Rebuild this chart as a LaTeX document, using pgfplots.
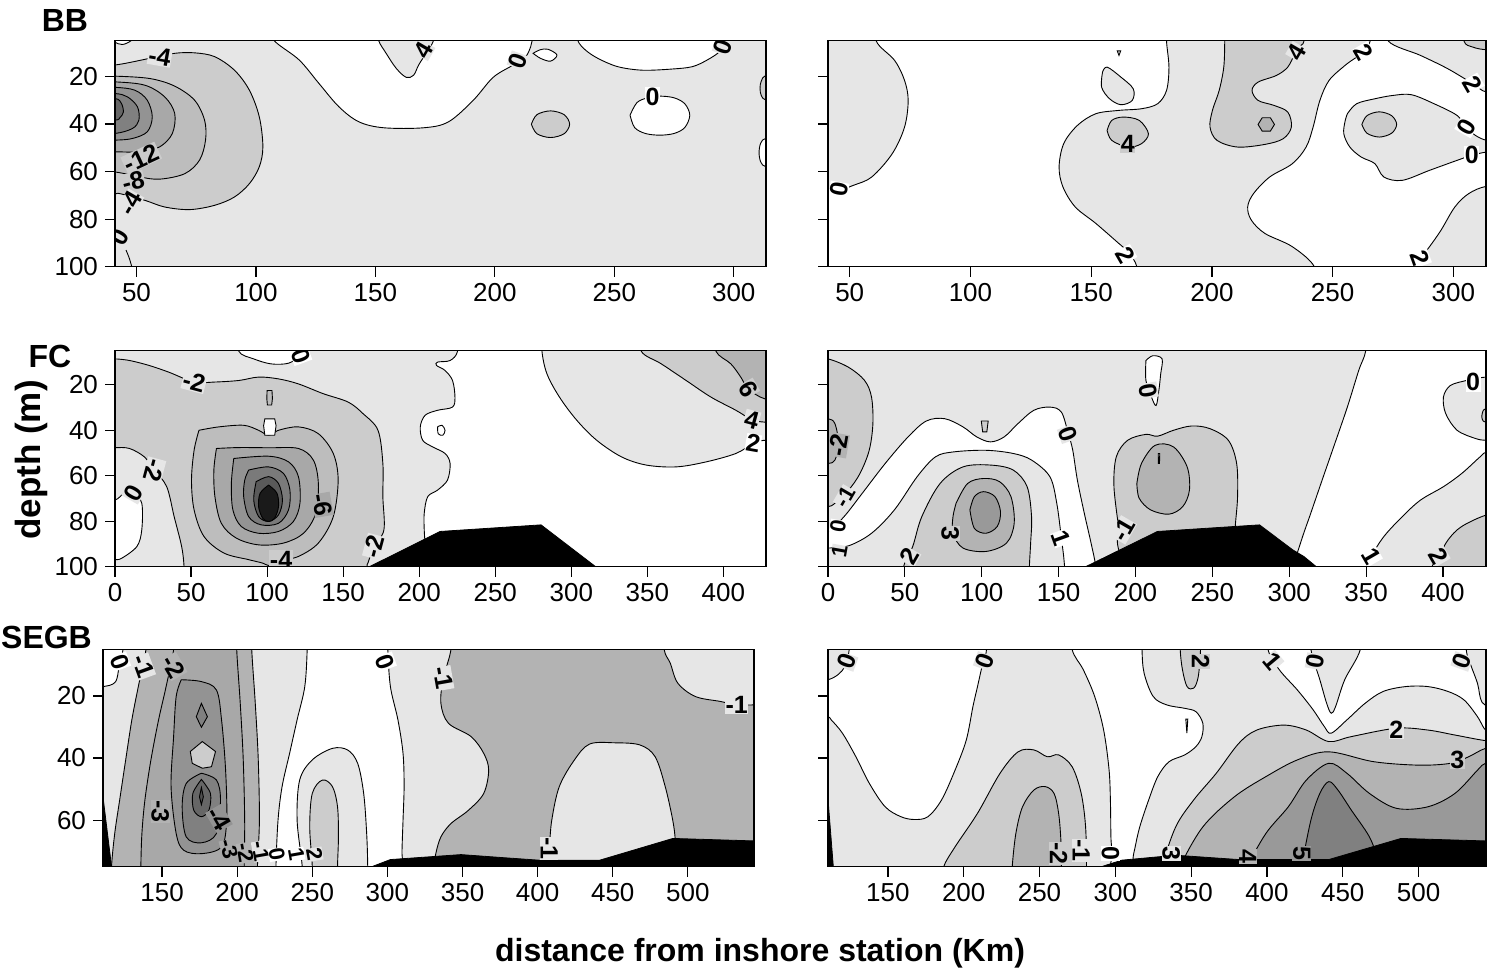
\documentclass[border=0pt]{standalone}
\usepackage{fontspec}
\setmainfont{Liberation Sans}
\usepackage{pgfplots}
\pgfplotsset{compat=1.18}
\definecolor{g1}{HTML}{E6E6E6}
\definecolor{g2}{HTML}{CCCCCC}
\definecolor{g3}{HTML}{B3B3B3}
\definecolor{g4}{HTML}{999999}
\definecolor{g5}{HTML}{808080}
\definecolor{g6}{HTML}{666666}
\definecolor{g7}{HTML}{4D4D4D}
\definecolor{r1}{HTML}{BDBDBD}
\definecolor{r2}{HTML}{A8A8A8}
\definecolor{r3}{HTML}{939393}
\definecolor{r4}{HTML}{7A7A7A}
\definecolor{r5}{HTML}{5A5A5A}
\definecolor{r6}{HTML}{1A1A1A}
\pgfplotsset{
  panel/.style={scale only axis, anchor=south west, y dir=reverse, ymin=5,
    tick align=outside, xtick pos=bottom, ytick pos=left, major tick length=5pt,
    axis line style={line width=0.6pt}, tick style={black, line width=0.6pt},
    ticklabel style={font=\fontsize{13}{15}\selectfont},
    /pgf/number format/assume math mode=true, axis on top,
    axis background/.style={fill=g1}},
  deep/.style={ymax=100, ytick={20,40,60,80,100}},
  shallow/.style={ymax=75, ytick={20,40,60}},
  cl/.style={draw=black, line width=0.45pt, smooth, tension=0.55},
  pg/.style={draw=black, line width=0.45pt},
}
\tikzset{lab/.style={font=\bfseries\fontsize{12.5}{12.5}\selectfont, inner sep=0.3pt},
  slab/.style={font=\bfseries\fontsize{11}{11}\selectfont, inner sep=0.2pt}}
\begin{document}
\begin{tikzpicture}
\path[use as bounding box] (0,0) rectangle (744pt,-486pt);
% ================= BB left
\begin{axis}[panel, deep, at={(57.5pt,-133.35pt)}, width=325.5pt, height=113pt,
  xmin=41, xmax=313.5, xtick={50,100,...,300}]
\addplot[cl, fill=white] coordinates {(107.7,0) (107.7,5) (118.1,13.1) (126.4,23) (134.75,32.8) (143.1,39.1) (153.5,41.6) (170.2,41.6) (180.6,39.1) (191,30) (199.3,20.4) (207.7,15.2) (212.9,11.7) (215,7.5) (215.6,5) (215.6,0)} -- cycle;
\addplot[cl, fill=g1] coordinates {(151.4,0) (151.4,5) (154.5,10.3) (158.7,16.6) (162.9,20.4) (166,19.5) (168.1,15.2) (171.2,10.3) (174.3,5) (174.3,0)} -- cycle;
\addplot[cl, fill=white] coordinates {(216,10.3) (219,8.8) (222.25,8.6) (226,11) (223.3,13.6) (219.1,12.4) (216,10.3)} -- cycle;
\addplot[cl, fill=white] coordinates {(234.75,0) (234.75,5) (237.9,8.9) (243.1,12.4) (251.4,15.9) (261.8,17.4) (274.3,16.9) (282.7,15.9) (288.9,13.1) (294.1,9.6) (297.7,5) (297.7,0)} -- cycle;
\addplot[cl, fill=white] coordinates {(256.6,36.3) (259.5,31) (264,29) (269,28.3) (275,29) (279.5,31.5) (281.6,36.3) (279.5,41.5) (275,44) (269,44.7) (263,44) (258.5,41.5) (256.6,36.3)} -- cycle;
\addplot[cl, fill=g2] coordinates {(215.3,40.1) (217.6,36.1) (223.3,34.5) (229,36.1) (231.3,40.1) (229,44.1) (223.3,45.7) (217.6,44.1) (215.3,40.1)} -- cycle;
\addplot[cl, fill=white] coordinates {(320,46) (313.5,46) (311.3,48) (310.6,52) (311.3,56) (313.5,58) (320,58)} -- cycle;
\addplot[cl, fill=g2] coordinates {(320,19.5) (313.5,19.5) (311.5,22) (311,25) (311.5,28) (313.5,30) (320,30)} -- cycle;
\addplot[cl, fill=white] coordinates {(41,3) (41,5.5) (44.1,6.6) (47.7,5) (47.7,3)} -- cycle;
\addplot[cl, fill=g2] coordinates {(30,15.2) (41,15.2) (55.6,12.4) (66,10.3) (74.3,10.1) (82.7,11.7) (91,17.4) (97.25,25.8) (101.4,37) (102.9,49.6) (101.4,58) (97.25,65.1) (91,70.7) (82.7,74.2) (72.25,76) (61.8,74.9) (53.5,72.1) (43.1,69.3) (41,69.3) (30,69.3)} -- cycle;
\addplot[cl, fill=r1] coordinates {(30,19.9) (41,19.9) (55.6,20.9) (66,24.1) (74.3,30) (78.5,38.4) (78.9,46.8) (76.4,55.2) (70.2,60.9) (59.75,63.2) (51.4,62.3) (41,60.2) (30,60.2)} -- cycle;
\addplot[cl, fill=r2] coordinates {(30,22.3) (41,22.3) (53.5,23.7) (61.8,28.6) (66,35.6) (65,44) (59.75,49.6) (51.4,51.7) (41,51.7) (30,51.7)} -- cycle;
\addplot[cl, fill=r3] coordinates {(30,24.6) (41,24.6) (49.3,25.8) (54.5,30) (56.6,37) (54.5,43.3) (48.3,46.1) (41,46.8) (30,46.8)} -- cycle;
\addplot[cl, fill=g5] coordinates {(30,27.2) (41,27.2) (46.2,28.6) (50.4,32.8) (51,38.4) (48.3,41.9) (41,44) (30,44)} -- cycle;
\addplot[cl, fill=g6] coordinates {(30,29.3) (41,29.3) (43.7,31.4) (44.5,35) (43.1,37.3) (41,38.4) (30,38.4)} -- cycle;
\addplot[cl] coordinates {(45.6,93) (47,96.5) (48.3,101)};
\node[lab, fill=g1, rotate=-10] at (axis cs:59.75,11.7) {-4};
\node[lab, fill=g2, rotate=25] at (axis cs:52,54.3) {-12};
\node[lab, fill=g2, rotate=15] at (axis cs:48.6,64.3) {-8};
\node[lab, fill=g1, rotate=60] at (axis cs:47.5,73.3) {-4};
\node[lab, fill=g1, rotate=60] at (axis cs:43,87.5) {0};
\node[lab, fill=g1, rotate=60] at (axis cs:170.2,8.9) {4};
\node[lab, fill=g1, rotate=70] at (axis cs:209.75,13.4) {0};
\node[lab, fill=g1, rotate=70] at (axis cs:295.6,7.5) {0};
\node[lab, fill=white] at (axis cs:266,28.6) {0};
\end{axis}
% ================= BB right
\begin{axis}[panel, deep, at={(414pt,-133.35pt)}, width=329pt, height=113pt,
  xmin=41, xmax=313.5, xtick={50,100,...,300}, yticklabels={}, axis background/.style={fill=white}]
\addplot[cl, fill=g1] coordinates {(30,-5) (61,-5) (61,5.2) (68.6,13.3) (72.7,21.7) (74.2,30.1) (72.7,41.3) (67.6,52.5) (59.1,62.3) (51.5,65.8) (44,68.6) (41,69.3) (30,69.3)} -- cycle;
\addplot[cl, fill=g1] coordinates {(181.2,-5) (181.2,5.2) (182.2,16.1) (181.2,25.9) (177.5,31.5) (170.8,33.6) (161.4,34.3) (151.9,35.7) (144.3,40.6) (138.6,48.3) (136.7,58.1) (138.3,66.5) (143.4,74.9) (151.9,81.8) (161.4,90.2) (165.2,93.7) (168.9,100) (168.9,110) (242.4,110) (242.4,100) (233.3,91.6) (221.9,86) (216.3,80.4) (214.8,74.9) (217.2,69.3) (223.9,62.3) (233.3,56.7) (239,49.7) (241.9,41.3) (244.7,30.1) (248.5,21.7) (255.1,15.4) (258.9,12.6) (262.7,9.8) (265.5,5.2) (265.5,-5)} -- cycle;
\addplot[cl, fill=g2] coordinates {(205.3,-5) (205.3,5.2) (204.9,16.1) (203,25.9) (200.2,34.3) (199.2,41.3) (202.1,46.9) (210.6,49.7) (221.9,48.6) (229.5,46.2) (232.9,41.3) (231.4,35) (225.7,32.2) (219.1,30.1) (216.6,25.9) (219.1,22.4) (226.7,19.6) (231.4,16.1) (234.3,10.5) (236,7.5) (238.1,5.2) (238.1,-5)} -- cycle;
\addplot[pg, fill=g3] coordinates {(219.1,40.2) (220.8,37.4) (224.2,37.4) (225.9,40.2) (224.2,43) (220.8,43)} -- cycle;
\addplot[cl, fill=g2] coordinates {(156.6,42.7) (158.5,38.5) (163.3,37.1) (169.9,38.5) (173.7,44.1) (170.8,48.3) (165.2,49.7) (158.5,46.9) (156.6,42.7)} -- cycle;
\addplot[cl, fill=g1] coordinates {(154.7,18.2) (156.6,16.1) (162.3,20.3) (167.4,25.2) (167,30.1) (162.3,31.9) (157.6,29.4) (154.3,24.5) (154.7,18.2)} -- cycle;
\addplot[pg, fill=g1] coordinates {(160.8,9.3) (162.2,9.3) (161.5,11.2)} -- cycle;
\addplot[cl, fill=g1] coordinates {(256.1,35.7) (259.9,31.5) (267.5,29.4) (275,28) (282.6,27.7) (292,31.5) (301.5,36.4) (305.3,41.3) (309.1,44.8) (313.8,46.9) (320,47) (320,51.8) (313.8,51.8) (307.6,53.2) (301.5,55.3) (290.1,59.5) (278.8,63.7) (271.2,62.3) (267.5,56.7) (261.8,53.9) (257.1,49.7) (254.6,44.1) (255.2,38.5) (256.1,35.7)} -- cycle;
\addplot[cl, fill=g2] coordinates {(262.1,40.2) (264.2,36.5) (269.3,34.9) (274.4,36.5) (276.5,40.2) (274.4,43.9) (269.3,45.5) (264.2,43.9) (262.1,40.2)} -- cycle;
\addplot[cl, fill=g1] coordinates {(273.1,-5) (273.1,5.2) (286.4,11.2) (297.7,16.8) (308.1,23.1) (313.8,26.6) (325,26.6) (325,-5)} -- cycle;
\addplot[cl, fill=g2] coordinates {(304.4,-5) (304.4,5.2) (308.1,7.7) (313.8,8.8) (325,8.8) (325,-5)} -- cycle;
\addplot[cl, fill=g1] coordinates {(285.4,110) (285.4,100) (286.4,96.5) (290.1,91.6) (294.9,84.6) (300.6,74.9) (306.3,69.3) (313.8,66.2) (325,66.2) (325,110)} -- cycle;
\node[lab, fill=white, rotate=80] at (axis cs:45.5,67.6) {0};
\node[lab, fill=g2] at (axis cs:165.2,48.3) {4};
\node[lab, fill=white, rotate=-60] at (axis cs:164.2,95.1) {2};
\node[lab, fill=g1, rotate=60] at (axis cs:235.2,9.8) {4};
\node[lab, fill=white, rotate=-60] at (axis cs:262.7,9.8) {2};
\node[lab, fill=white, rotate=-60] at (axis cs:308.1,23.1) {2};
\node[lab, fill=white, rotate=60] at (axis cs:305.3,41.3) {0};
\node[lab, fill=white] at (axis cs:307.6,53.2) {0};
\node[lab, fill=white, rotate=-70] at (axis cs:286.4,96.5) {2};
\end{axis}
% ================= FC left
\begin{axis}[panel, deep, at={(57.5pt,-283.35pt)}, width=325.5pt, height=108pt,
  xmin=0, xmax=428, xtick={0,50,...,400}]
\addplot[cl, fill=white] coordinates {(225.2,-5) (225.2,5.25) (220.3,9.3) (212.1,10) (211.4,11.5) (217,13.7) (221.9,18.1) (223.5,25.4) (221.9,29.8) (212.1,31.2) (203.9,33.4) (200.7,38.5) (202.3,44.4) (208.8,47.3) (217,50.2) (220.3,54.6) (218.6,61.9) (212.1,66.3) (205.6,69.2) (203.3,76.5) (203.3,83.8) (203.9,91.1) (203.9,100) (203.9,110) (440,110) (440,-5)} -- cycle;
\addplot[cl, fill=g1] coordinates {(280.7,-5) (280.7,5.25) (284,15.2) (292.2,25.4) (303.6,35.6) (316.7,44.4) (333,51.7) (349.3,55.3) (369,56.1) (388.6,53.9) (408.2,50.2) (419.6,45.8) (427,44.4) (440,44.4) (440,-5)} -- cycle;
\addplot[cl, fill=g2] coordinates {(346,-5) (346,5.25) (359.2,10.8) (375.5,18.1) (391.8,25.4) (408.2,31.2) (418.6,35.3) (427,36.4) (440,36.4) (440,-5)} -- cycle;
\addplot[cl, fill=g3] coordinates {(395.1,-5) (395.1,5.25) (404.9,10.8) (411.4,16.6) (416.3,21.8) (427,26.1) (440,26.1) (440,-5)} -- cycle;
\addplot[cl, fill=g2] coordinates {(-10,8.6) (0,8.6) (9.5,9.3) (22.5,11.5) (35.6,14.5) (52,18.8) (65,18.8) (81.4,18.1) (94.4,16.6) (107.5,17.4) (120.6,19.6) (136.9,23.9) (153.3,27.6) (163.1,32.7) (172.9,40) (176.1,54.6) (176.1,69.2) (176.8,83.8) (170.3,91.1) (166.3,98.4) (165.7,100) (165.7,110) (45.4,110) (45.4,100) (43.8,91.1) (38.9,78) (34,64.8) (25.8,57.5) (19.3,51.7) (9.5,48) (0,47.6) (-10,47.6)} -- cycle;
\addplot[cl, fill=white] coordinates {(81.4,-5) (81.4,5.25) (91.2,8.6) (102.6,10.8) (114.1,10.5) (122.2,7.2) (127.1,5.25) (127.1,-5)} -- cycle;
\addplot[cl, fill=white] coordinates {(-10,70.7) (0,70.7) (6.2,67.7) (12.1,67.7) (17.6,72.1) (17.6,83.8) (14.4,91.1) (4.6,96.2) (0,96.9) (-10,96.9)} -- cycle;
\addplot[cl, fill=r1] coordinates {(55.2,40) (68.3,38.5) (84.6,37.8) (94.4,40) (101,42.2) (107.5,40) (120.6,38.5) (133.7,41.5) (143.5,50.2) (146.7,61.9) (143.5,78) (133.7,89.6) (120.6,95.5) (110.8,96.9) (104.2,98.4) (101,99.5) (97,98.4) (87.9,96.9) (71.6,94) (58.5,86.7) (52,75) (50.3,61.9) (52,48.8) (55.2,40)} -- cycle;
\addplot[cl, fill=r2] coordinates {(66.7,48) (81.4,47.6) (101,47.7) (120.6,48) (130.4,53.1) (133.7,63.4) (132,76.5) (123.9,85.3) (110.8,89.6) (94.4,90.4) (79.7,87.4) (69.9,80.9) (65.7,69.2) (65,57.5) (66.7,48)} -- cycle;
\addplot[cl, fill=r3] coordinates {(78.1,52.4) (101,51.4) (114.1,53.9) (120.6,60.4) (121.6,72.1) (117.3,80.1) (107.5,84.5) (94.4,85.3) (83,82.3) (77.5,75) (76.5,63.4) (78.1,52.4)} -- cycle;
\addplot[cl, fill=r4] coordinates {(87.9,57.5) (101,56.1) (110.8,59) (115,66.3) (114.1,75) (107.5,80.9) (96.1,81.6) (87.9,78) (84.6,69.2) (85.3,61.9) (87.9,57.5)} -- cycle;
\addplot[cl, fill=r5] coordinates {(92.8,62.6) (101,60.4) (107.5,63.4) (110.1,70.7) (107.5,77.2) (101,80.1) (94.4,77.9) (91.2,70.7) (92.8,62.6)} -- cycle;
\addplot[cl, fill=r6] coordinates {(101,64.1) (106.5,67.7) (107.5,73.6) (104.9,78.7) (101,80.1) (97.1,78.7) (94.4,73.6) (95.4,67.7) (101,64.1)} -- cycle;
\addplot[pg, fill=r1] coordinates {(100,22.5) (103.2,22.5) (103.5,26) (103,28.9) (100.2,28.9) (99.8,26)} -- cycle;
\addplot[pg, fill=white] coordinates {(98.5,35) (105,35) (105.9,38) (105,42.2) (98.5,42.2) (97.7,38)} -- cycle;
\addplot[cl, fill=white] coordinates {(212.1,38.5) (215,37.8) (217,40) (215.5,42.2) (212.5,41.5) (212.1,38.5)} -- cycle;
\addplot[fill=black, draw=black] coordinates {(167.3,100) (213.7,84.5) (280.1,81.6) (316,100)} -- cycle;
\node[lab, fill=white, rotate=-70] at (axis cs:122.2,7.2) {0};
\node[lab, fill=g1, rotate=-15] at (axis cs:52,18.8) {-2};
\node[lab, fill=g1, rotate=-105] at (axis cs:25.8,57.5) {-2};
\node[lab, fill=g1, rotate=60] at (axis cs:12.1,67.7) {0};
\node[lab, fill=r2, rotate=-80] at (axis cs:136.3,72.8) {-6};
\node[lab, fill=g2] at (axis cs:109.2,96.9) {-4};
\node[lab, fill=g1, rotate=75] at (axis cs:170.3,91.1) {-2};
\node[lab, fill=g2, rotate=-60] at (axis cs:416.3,21.8) {6};
\node[lab, fill=g1, rotate=-15] at (axis cs:418.6,35.3) {4};
\node[lab, fill=white, rotate=-10] at (axis cs:419.6,45.8) {2};
\end{axis}
% ================= FC right
\begin{axis}[panel, deep, at={(414pt,-283.35pt)}, width=329pt, height=108pt,
  xmin=0, xmax=428, xtick={0,50,...,400}, yticklabels={}]
\addplot[cl, fill=white] coordinates {(349.7,-5) (349.7,5.25) (345.2,13.7) (337.8,29.8) (328.9,47.3) (321.4,61.9) (314,76.5) (308,88.2) (303,100) (303,110) (440,110) (440,-5)} -- cycle;
\addplot[cl, fill=g1] coordinates {(440,16.6) (428,16.6) (419,17.5) (415.2,18.1) (404.8,20.3) (400.3,25.4) (401.8,32.7) (409.2,40) (421.1,43.6) (428,44.4) (440,44.4)} -- cycle;
\addplot[cl, fill=g2] coordinates {(440,30.5) (428,30.5) (425.5,32.7) (425.5,35) (428,36.4) (440,36.4)} -- cycle;
\addplot[cl, fill=g1] coordinates {(351.2,110) (351.2,100) (353.3,95.5) (361.6,86.7) (373.5,78) (385.4,70.7) (400.3,64.8) (412.2,59) (424.1,51.7) (428.6,49.5) (440,49.5) (440,110)} -- cycle;
\addplot[cl, fill=g2] coordinates {(392.9,110) (392.9,100) (397.3,95.5) (403.3,88.2) (412.2,82.3) (428.6,77.2) (440,77.2) (440,110)} -- cycle;
\addplot[cl, fill=g2] coordinates {(-10,8.6) (0,8.6) (13.4,12.3) (23.8,18.1) (28.3,25.4) (29.2,37.1) (26.8,48.8) (20.8,59) (13.4,66.3) (4.5,72.1) (0,73.6) (-10,73.6)} -- cycle;
\addplot[cl, fill=g3] coordinates {(-10,34.9) (0,34.9) (4.5,37.1) (6.8,45.8) (4.5,53.1) (0,54.6) (-10,54.6)} -- cycle;
\addplot[cl, fill=white] coordinates {(-10,84.5) (0,84.5) (10.4,78) (22.3,67.7) (37.2,54.6) (52.1,42.9) (64,35.9) (75.9,34.9) (87.8,38.5) (96.7,42.9) (105.7,45.1) (114.6,42.9) (123.5,37.1) (133.9,31.2) (144.3,29.8) (151.8,32) (156.3,41.5) (159.2,48.8) (162.2,61.9) (166.7,76.5) (171.1,89.6) (174.1,100) (174.1,110) (-10,110)} -- cycle;
\addplot[cl, fill=g1] coordinates {(-10,91.8) (0,91.8) (13.4,90.8) (28.3,85.3) (43.2,75) (58,60.4) (69.9,51.7) (81.8,49.5) (102.7,48.8) (120.5,50.2) (132.4,53.1) (144.3,60.4) (148.8,72.1) (151.8,87.4) (153.3,95.5) (153.9,100) (153.9,110) (-10,110)} -- cycle;
\addplot[cl, fill=g2] coordinates {(49.1,110) (49.1,100) (55.1,91.1) (61,78) (72.9,63.4) (87.8,56.1) (105.7,55.3) (120.5,57.5) (129.5,64.8) (132.4,78) (131.8,89.6) (131,100) (131,110)} -- cycle;
\addplot[cl, fill=g3] coordinates {(83.3,72.1) (90.8,63.4) (101.2,61.2) (111.6,62.6) (119,69.2) (121.1,80.9) (116.1,89.6) (102.7,93.3) (87.8,91.8) (81.3,85.3) (81.3,78) (83.3,72.1)} -- cycle;
\addplot[cl, fill=g4] coordinates {(92.3,75) (95.2,69.2) (101.2,67) (108.6,69.2) (112.2,75.8) (110.1,82.3) (102.7,85.3) (95.2,83.1) (92.3,75)} -- cycle;
\addplot[cl, fill=g2] coordinates {(189,82.3) (186,64.8) (187.5,51.7) (194.9,44.4) (206.8,41.8) (214.3,42.6) (224.7,40) (236.6,38.1) (248.5,39.3) (260.4,44.4) (265.8,54.6) (266.4,69.2) (264.9,82.3) (264,95) (230,96) (192,95) (189,82.3)} -- cycle;
\addplot[cl, fill=g3] coordinates {(200.9,63.4) (203.9,54.6) (212.8,46.6) (224.7,47.3) (233.6,56.1) (235.1,66.3) (230.7,73.6) (221.7,76.9) (209.8,75) (202.4,69.9) (200.9,63.4)} -- cycle;
\addplot[pg, fill=g4] coordinates {(214.8,50.2) (215.8,50.2) (215.6,54.6) (214.9,54.6)} -- cycle;
\addplot[cl, fill=white] coordinates {(206.8,9.3) (211.3,7.2) (217.3,8.6) (216.4,15.2) (215.2,22.5) (213.4,29.1) (210.4,25.4) (206.8,18.1) (206.8,9.3)} -- cycle;
\addplot[pg, fill=g2] coordinates {(99.7,35.9) (104.2,35.9) (103.3,40.7) (100.6,40.7)} -- cycle;
\addplot[fill=black, draw=black] coordinates {(167.6,100) (214.3,84.5) (280.7,81.6) (302.1,92.5) (309.5,95.5) (317.6,100)} -- cycle;
\node[lab, fill=g1, rotate=-80] at (axis cs:208.3,22.5) {0};
\node[lab, fill=g1, rotate=-70] at (axis cs:156.3,41.5) {0};
\node[lab, fill=g3, rotate=80] at (axis cs:7,46.6) {-2};
\node[slab, fill=g1, rotate=60] at (axis cs:11,69.3) {-1};
\node[slab, fill=white, rotate=80] at (axis cs:6.5,82.3) {0};
\node[slab, fill=g1, rotate=80] at (axis cs:7.4,93.3) {1};
\node[lab, fill=g2, rotate=-90] at (axis cs:79.5,85.3) {3};
\node[lab, fill=g1, rotate=60] at (axis cs:53,95.5) {2};
\node[lab, fill=white, rotate=-70] at (axis cs:151.8,87.4) {1};
\node[lab, fill=g1, rotate=60] at (axis cs:192,83.8) {-1};
\node[lab, fill=white, rotate=-60] at (axis cs:353.3,95.5) {1};
\node[lab, fill=g1, rotate=-60] at (axis cs:397.3,95.5) {2};
\node[lab, fill=white] at (axis cs:419.6,18.8) {0};
\end{axis}
% ================= SEGB left
\begin{axis}[panel, shallow, at={(51.5pt,-433.35pt)}, width=325.5pt, height=108.7pt,
  xmin=110.7, xmax=544, xtick={150,200,...,500}]
\addplot[cl, fill=white] coordinates {(100,-5) (124,-5) (124,5) (121.8,9) (119.1,15.4) (110.7,17) (100,17)} -- cycle;
\addplot[cl, fill=g3] coordinates {(139.3,-5) (139.3,5) (134.2,17) (129.9,27.7) (125.8,40.6) (121.8,53.5) (118.5,64.3) (116.4,75) (116.4,85) (213.5,85) (213.5,75) (214.8,60) (214,40) (212,22) (209.7,5) (209.7,-5)} -- cycle;
\addplot[cl, fill=r2] coordinates {(157.7,-5) (157.7,5) (152.7,17) (147.7,27.7) (142.6,40.6) (138.6,53.5) (136.6,64.3) (135.9,75) (135.9,85) (204.7,85) (204.7,75) (205,60) (204,40) (202,22) (199.7,5) (199.7,-5)} -- cycle;
\addplot[cl, fill=r3] coordinates {(162.8,14.8) (176.2,15.4) (186.2,18.1) (189.6,27.7) (192.3,43.9) (193,60) (189.6,68.6) (176.2,70.8) (164.4,69.7) (159.4,64.3) (156,49.2) (157.7,33.1) (159.4,20.2) (162.8,14.8)} -- cycle;
\addplot[pg, fill=g5] coordinates {(176.2,22.4) (180.2,26.7) (176.2,30.1) (172.8,26.7)} -- cycle;
\addplot[pg, fill=g2] coordinates {(176.8,34.7) (185.6,37.9) (182.9,42.8) (176.8,43.3) (170.1,41.7) (168.8,37.9)} -- cycle;
\addplot[cl, fill=g5] coordinates {(176.2,44.9) (186.2,47.1) (188.9,53.5) (186.2,64.3) (176.2,67.3) (166.1,65.4) (163.4,55.7) (166.1,48.2) (176.2,44.9)} -- cycle;
\addplot[cl, fill=g6] coordinates {(176.2,46.9) (182.2,51.4) (181.2,56.8) (176.2,58.9) (171.1,56.8) (170.5,51.4) (176.2,46.9)} -- cycle;
\addplot[pg, fill=g7] coordinates {(176.2,49.5) (177.5,52.5) (176.2,55) (174.9,52.5)} -- cycle;
\addplot[cl, fill=white] coordinates {(246.6,-5) (246.6,5) (245,17) (239.9,27.7) (234.9,38.5) (229.9,49.2) (227.2,60) (225.8,75) (225.8,85) (310.4,85) (310.4,75) (309.7,70.8) (310.4,60) (311.1,49.2) (310.4,38.5) (307,27.7) (302,17) (300.3,5) (300.3,-5)} -- cycle;
\addplot[cl, fill=g1] coordinates {(243.3,85) (243.3,75) (239.9,60) (241.6,47.1) (250,40.6) (263.4,36.9) (273.5,37.4) (280.2,41.7) (284.2,51.4) (286.2,64.3) (286.9,75) (286.9,85)} -- cycle;
\addplot[cl, fill=g2] coordinates {(250,85) (250,75) (248.3,62.2) (250,51.4) (256.7,47.1) (263.4,49.2) (266.8,55.7) (267.4,65.4) (266.8,75) (266.8,85)} -- cycle;
\addplot[cl, fill=g3] coordinates {(342.3,-5) (342.3,5) (337.2,14.3) (335.6,22.4) (340.6,28.8) (355.7,33.1) (364.1,38.5) (367.4,43.9) (364.1,51.4) (354,56.8) (342.3,61.1) (335.6,65.4) (332.2,70.8) (331.2,75) (331.2,85) (560,85) (560,-5)} -- cycle;
\addplot[cl, fill=g1] coordinates {(406,85) (406,75) (407.7,69.1) (409.4,60) (414.4,49.2) (424.5,40.6) (434.6,35.5) (451.3,35.1) (468.1,35.8) (478.2,39.6) (484.9,49.2) (489.9,60) (491.6,66.5) (492,75) (492,85)} -- cycle;
\addplot[cl, fill=g1] coordinates {(484.2,-5) (484.2,5) (488.3,9.5) (493.3,15.9) (505,20.2) (521.8,21.8) (532.5,22.9) (544.3,22.9) (560,22.9) (560,-5)} -- cycle;
\addplot[fill=black, draw=black] coordinates {(289.6,80) (289.6,75) (302,72.7) (349,71.1) (377.5,72.1) (401,72.9) (441.3,72.9) (490,65.9) (544.3,66.7) (560,66.7) (560,80)} -- cycle;
\addplot[fill=black, draw=black] coordinates {(105,52.5) (110.7,52.5) (116.4,75) (116.4,80) (105,80)} -- cycle;
\node[lab, fill=white, rotate=-70] at (axis cs:121.8,9) {0};
\node[lab, fill=g1, rotate=-70] at (axis cs:137.6,10.5) {-1};
\node[lab, fill=g3, rotate=-60] at (axis cs:157.7,10.5) {-2};
\node[lab, fill=white, rotate=-70] at (axis cs:298.7,9) {0};
\node[lab, fill=g1, rotate=-80] at (axis cs:337.2,14.3) {-1};
\node[lab, fill=g1] at (axis cs:532.5,22.9) {-1};
\node[lab, fill=g1, rotate=-90] at (axis cs:407.7,69.1) {-1};
\node[lab, fill=g3, rotate=-90] at (axis cs:148.7,57.3) {-3};
\node[lab, fill=r3, rotate=-60] at (axis cs:187.9,59.5) {-4};
\node[slab, fill=r2, rotate=-75] at (axis cs:194.6,69.4) {-3};
\node[slab, fill=g3, rotate=-80] at (axis cs:205.5,70.5) {-2};
\node[slab, fill=g1, rotate=-80] at (axis cs:215.5,70) {-1};
\node[slab, fill=white, rotate=-80] at (axis cs:226.5,71) {0};
\node[slab, fill=white, rotate=-80] at (axis cs:239.5,71) {1};
\node[slab, fill=g1, rotate=-80] at (axis cs:251.5,71) {2};
\end{axis}
% ================= SEGB right
\begin{axis}[panel, shallow, at={(414pt,-433.35pt)}, width=329pt, height=108.7pt,
  xmin=110.5, xmax=544.5, xtick={150,200,...,500}, yticklabels={}]
\addplot[cl, fill=white] coordinates {(124.5,-5) (124.5,5) (121.5,10.5) (117,13.2) (110.2,14.8) (100,14.8) (100,26.7) (110.2,26.7) (112.6,27.7) (120,32) (128.9,39.6) (137.8,48.2) (148.2,55.7) (158.6,58.9) (167.5,59.8) (176.4,58.9) (185.4,53.5) (194.3,43.9) (201.7,34.2) (206.1,23.4) (209.1,17) (212.1,10.5) (215.1,5) (215.1,-5)} -- cycle;
\addplot[cl, fill=white] coordinates {(271.5,-5) (271.5,5) (278.9,11.6) (286.4,20.2) (292.3,31) (295.9,43.9) (296.8,54.6) (297.1,65.4) (297.7,70.8) (297,80) (312,80) (311.6,72.9) (313.1,68.6) (316.1,62.2) (322,53.5) (328,46) (335.4,41.2) (345.8,39) (353.2,36.3) (357.1,33.1) (357.7,28.8) (353.2,25.1) (345.8,24) (333.9,22.9) (325,20.2) (319,12.7) (317.6,5) (317.6,-5)} -- cycle;
\addplot[cl, fill=g2] coordinates {(342.8,-5) (342.8,5) (344.3,11.6) (347.3,17) (351.7,17.5) (354.7,13.8) (356.2,5) (356.2,-5)} -- cycle;
\addplot[pg, fill=g1] coordinates {(346.5,27.5) (347.8,27.5) (347.2,32)} -- cycle;
\addplot[cl, fill=white] coordinates {(400.7,-5) (400.7,5) (408.2,11.6) (420.1,18.1) (430.5,24.5) (437.9,29.9) (442.4,32) (452.8,27.7) (464.7,22.4) (476.5,18.6) (491.4,17) (506.2,17) (519.6,18.6) (530,21.3) (538.9,26.7) (544.2,31) (550,31) (550,25) (541.8,22) (538.9,16) (534.4,10) (531.4,5) (531.4,-5)} -- cycle;
\addplot[cl, fill=g1] coordinates {(429,-5) (429,5) (434.9,14.8) (439.4,22.4) (442.4,25.6) (445.3,23.4) (451.3,14.8) (461.6,5) (461.6,-5)} -- cycle;
\addplot[cl, fill=g2] coordinates {(186.8,80) (186.8,75) (194.3,68.6) (209.1,57.8) (224,44.9) (235.9,38) (246.3,37.4) (255.2,39.6) (262.6,39) (271.5,42.8) (277.5,51.4) (280.4,62.2) (281,75) (281,80)} -- cycle;
\addplot[cl, fill=g3] coordinates {(232,80) (232,75) (234.4,64.3) (238.8,55.7) (246.3,50.3) (253.7,49.2) (259.6,51.4) (262.6,57.8) (264.1,66.5) (264.4,75) (264.4,80)} -- cycle;
\addplot[cl, fill=g2] coordinates {(330.9,80) (330.9,75) (339.8,62.2) (351.7,53.5) (366.6,44.9) (381.4,35.3) (393.3,31) (411.1,29.4) (426,31) (440.8,34.7) (455.7,33.1) (485.4,30.4) (506.2,31) (524,32.6) (544.2,34.4) (555,34.4) (555,80)} -- cycle;
\addplot[cl, fill=g3] coordinates {(342.8,80) (342.8,75) (357.7,62.2) (378.5,52.5) (399.3,46) (420.1,40.6) (440.8,38) (470.6,41.2) (500.3,42.3) (521.1,41.7) (533,39.6) (544.2,36.9) (555,36.9) (555,80)} -- cycle;
\addplot[cl, fill=g4] coordinates {(387.4,80) (387.4,75) (399.3,64.3) (414.1,55.7) (426,47.1) (440.8,41.7) (452.7,44.9) (467.6,51.4) (485.4,56.2) (506.2,55.7) (524,51.4) (538.9,43.9) (544.2,41.7) (555,41.7) (555,80)} -- cycle;
\addplot[cl, fill=g5] coordinates {(423,80) (423,75) (429,60) (434.9,51.4) (440.8,47.6) (446.8,50.3) (455.7,56.8) (467.6,65.4) (473.5,72.9) (475,75) (475,80)} -- cycle;
\addplot[fill=black, draw=black] coordinates {(290.8,80) (290.8,75) (304.2,72.9) (339.8,71.3) (381.4,72.7) (440.8,72.7) (488.4,65.9) (544.2,66.7) (555,66.7) (555,80)} -- cycle;
\addplot[fill=black, draw=black] coordinates {(105,51.4) (110.2,51.4) (114,75) (114,80) (105,80)} -- cycle;
\node[lab, fill=g1, rotate=70] at (axis cs:123,8.9) {0};
\node[lab, fill=g1, rotate=70] at (axis cs:213.6,8.9) {0};
\node[lab, fill=g2, rotate=-90] at (axis cs:356.2,8.9) {2};
\node[lab, fill=g1, rotate=-50] at (axis cs:403.7,8.9) {1};
\node[lab, fill=g1, rotate=80] at (axis cs:431.9,8.9) {0};
\node[lab, fill=g1, rotate=70] at (axis cs:528.5,8.9) {0};
\node[lab, fill=g1] at (axis cs:485.4,31) {2};
\node[lab, fill=g2] at (axis cs:525.5,40.6) {3};
\node[lab, fill=g2, rotate=-90] at (axis cs:262.6,70.8) {-2};
\node[lab, fill=g1, rotate=-90] at (axis cs:277.5,69.7) {-1};
\node[lab, fill=white, rotate=-90] at (axis cs:296.8,70.8) {0};
\node[lab, fill=g1, rotate=-90] at (axis cs:336.9,70.8) {3};
\node[lab, fill=g3, rotate=-90] at (axis cs:387.4,71.8) {4};
\node[lab, fill=g4, rotate=-90] at (axis cs:423,70.8) {5};
\end{axis}
% ================= titles
\node[font=\bfseries\fontsize{16}{16}\selectfont] at (32.5pt,-10.25pt) {BB};
\node[font=\bfseries\fontsize{16}{16}\selectfont] at (25pt,-178pt) {FC};
\node[font=\bfseries\fontsize{16}{16}\selectfont] at (23.25pt,-318.5pt) {SEGB};
\node[font=\bfseries\fontsize{17.5}{17.5}\selectfont, rotate=90] at (15.5pt,-230pt) {depth (m)};
\node[font=\bfseries\fontsize{16}{16}\selectfont] at (380pt,-476.5pt) {distance from inshore station (Km)};
\end{tikzpicture}
\end{document}
